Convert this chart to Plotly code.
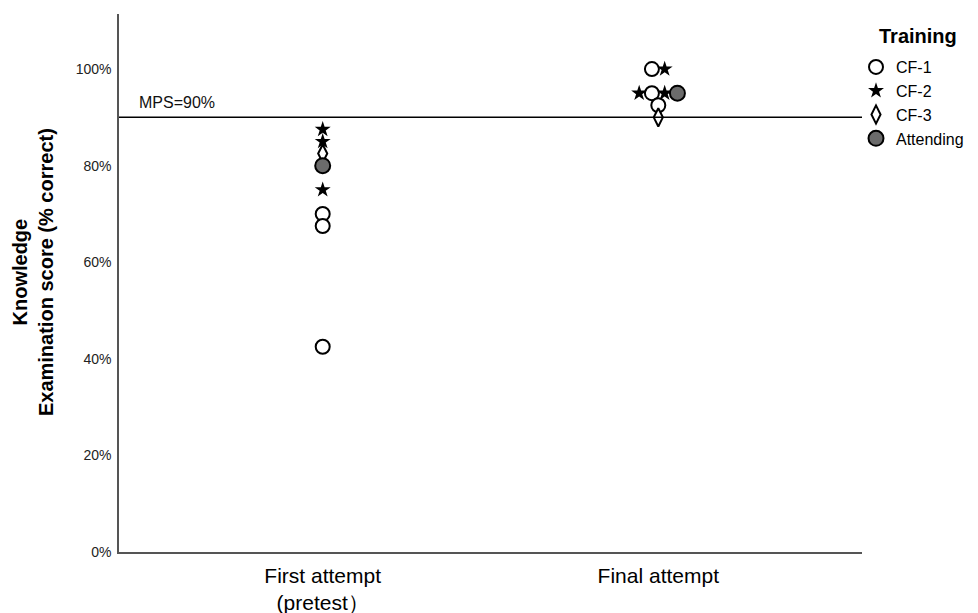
import plotly.graph_objects as go

# ---- data ----
attempt_labels = ["First attempt<br>(pretest）", "Final attempt"]
groups = ["CF-1", "CF-2", "CF-3", "Attending"]

# scores (% correct) per group, with attempt index and side-by-side dodge slot
cf1_attempt = [0, 0, 0, 1, 1, 1]
cf1_score = [70, 67.5, 42.5, 100, 95, 92.5]
cf1_dodge = [0, 0, 0, -0.5, -0.5, 0]

cf2_attempt = [0, 0, 0, 1, 1, 1]
cf2_score = [87.5, 85, 75, 100, 95, 95]
cf2_dodge = [0, 0, 0, 0.5, -1.5, 0.5]

cf3_attempt = [0, 1]
cf3_score = [82.5, 90]
cf3_dodge = [0, 0]

att_attempt = [0, 1]
att_score = [80, 95]
att_dodge = [0, 1.5]

mps = 90
y_ticks = [0, 20, 40, 60, 80, 100]

DODGE_W = 0.038  # category units per dodge slot

def xpos(att, dodge):
    return [a + d * DODGE_W for a, d in zip(att, dodge)]

fig = go.Figure()
fig.add_trace(go.Scatter(
    x=xpos(cf1_attempt, cf1_dodge), y=cf1_score, mode="markers", name="CF-1",
    marker=dict(symbol="circle", size=14, color="white", line=dict(color="black", width=2))))
fig.add_trace(go.Scatter(
    x=xpos(cf2_attempt, cf2_dodge), y=cf2_score, mode="markers", name="CF-2",
    marker=dict(symbol="star", size=12, color="black", line=dict(color="black", width=0))))
fig.add_trace(go.Scatter(
    x=xpos(cf3_attempt, cf3_dodge), y=cf3_score, mode="markers", name="CF-3",
    marker=dict(symbol="diamond-tall", size=13, color="white", line=dict(color="black", width=2))))
fig.add_trace(go.Scatter(
    x=xpos(att_attempt, att_dodge), y=att_score, mode="markers", name="Attending",
    marker=dict(symbol="circle", size=15, color="#6b6b6b", line=dict(color="black", width=2))))

fig.add_shape(type="line", xref="paper", x0=0, x1=1, yref="y", y0=mps, y1=mps,
              line=dict(color="black", width=1.5), layer="above")
fig.add_annotation(x=0.024, xref="paper", y=mps, yref="y", yshift=15,
                   text="MPS=90%", showarrow=False, xanchor="left", yanchor="middle",
                   font=dict(size=16, color="#111"))

fig.add_annotation(x=-0.116, xref="paper", y=0.52, yref="paper",
                   text="<b>Knowledge<br>Examination score (% correct)</b>",
                   textangle=-90, showarrow=False, xanchor="center", yanchor="middle",
                   font=dict(size=20, color="black"))

# legend title
fig.add_annotation(x=(877 - 119) / 743, xref="paper", y=(552 - 36) / 538, yref="paper",
                   text="<b>Training</b>", showarrow=False, xanchor="left", yanchor="middle",
                   font=dict(size=20, color="black"))

fig.update_layout(
    width=978, height=613,
    margin=dict(l=119, r=116, t=14, b=61, autoexpand=False),
    paper_bgcolor="white", plot_bgcolor="white",
    font=dict(family="Liberation Sans, Arial, sans-serif", color="black"),
    showlegend=True,
    legend=dict(xref="container", yref="container", x=856 / 978, xanchor="left",
                y=1 - 50 / 613, yanchor="top", bgcolor="rgba(0,0,0,0)",
                font=dict(size=16), tracegroupgap=0, itemsizing="trace"),
    xaxis=dict(range=[-0.607, 1.607], tickvals=[0, 1], ticktext=attempt_labels,
               showgrid=False, zeroline=False, showline=True, linecolor="#555",
               linewidth=1.5, ticks="", ticklabelstandoff=4, automargin=False,
               tickfont=dict(size=21, color="black")),
    yaxis=dict(range=[0, 111.4], tickvals=y_ticks, ticktext=[f"{v}%" for v in y_ticks],
               showgrid=False, zeroline=False, showline=True, linecolor="#555",
               linewidth=1.5, ticks="", ticklabelstandoff=3, automargin=False,
               tickfont=dict(size=14, color="#222")),
)

fig.write_html("out.html")
